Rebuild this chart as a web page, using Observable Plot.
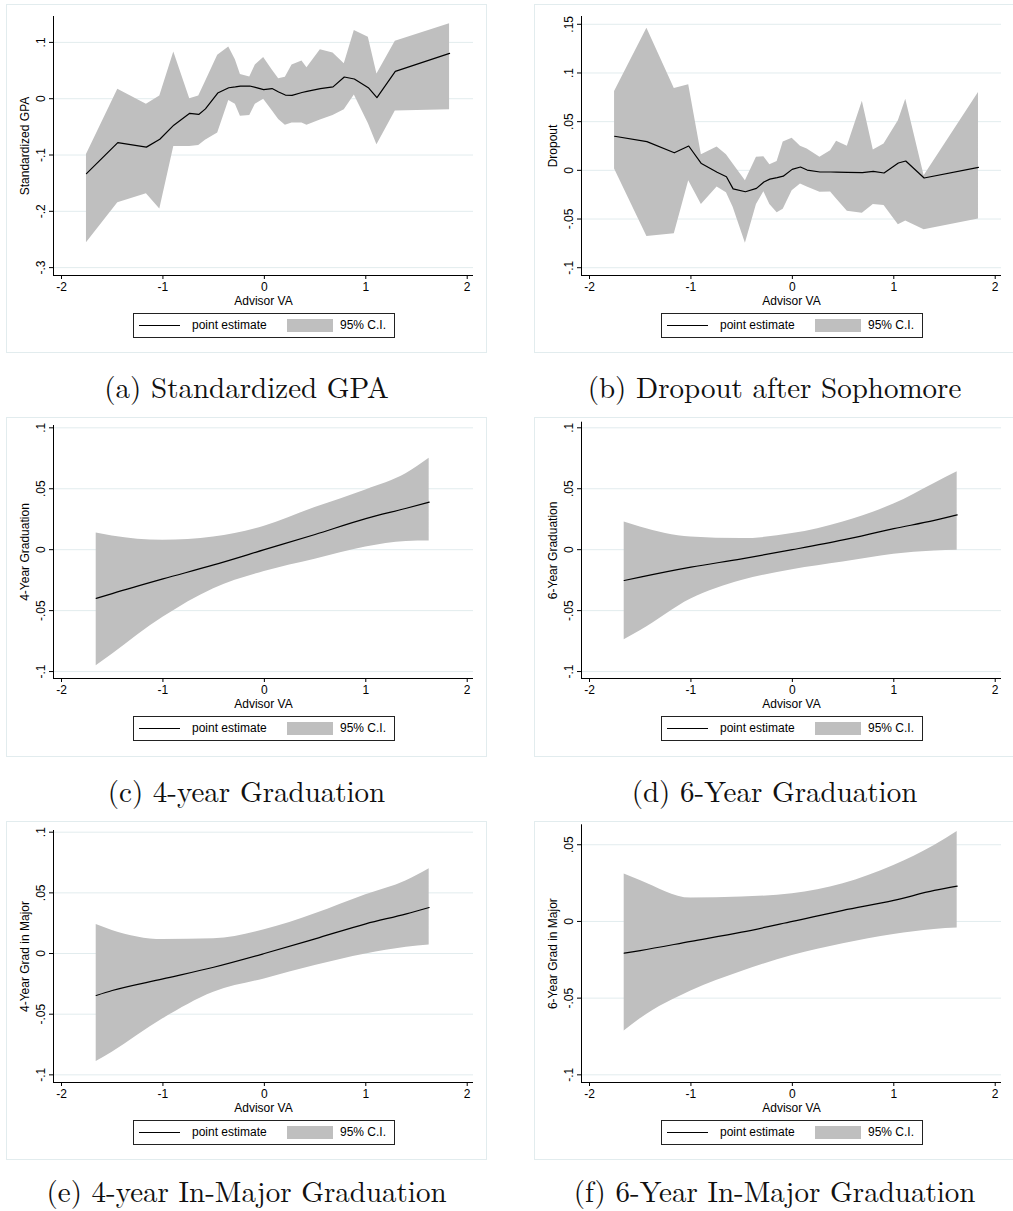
<!DOCTYPE html>
<html><head><meta charset="utf-8">
<script src="https://cdn.jsdelivr.net/npm/d3@7"></script>
<script src="https://cdn.jsdelivr.net/npm/@observablehq/plot@0.6"></script>
<style>
html,body{margin:0;padding:0;background:#fff;}
#fig{position:relative;width:1013px;height:1211px;overflow:hidden;background:#fff;}
.box{position:absolute;border:1px solid #e2ecee;box-sizing:border-box;}
.chart{position:absolute;}
.chart svg{display:block;overflow:visible;}
.legend{position:absolute;border:1px solid #222;box-sizing:border-box;font:12px Arial,"Liberation Sans",sans-serif;color:#000;background:#fff;}
.legend span{position:absolute;line-height:14px;white-space:nowrap;}
.cap{position:absolute;font-family:"Latin Modern Roman","CMU Serif","Liberation Serif",serif;font-size:29px;line-height:29px;text-align:center;white-space:nowrap;color:#111;}
</style></head><body><div id="fig"></div>
<script>
// ---------------- data ----------------
const xTickVals = [-2, -1, 0, 1, 2];
const xTitle = "Advisor VA";
const legendLabels = ["point estimate", "95% C.I."];

// (a) Standardized GPA
const gpaVA  = [-1.754,-1.445,-1.163,-1.031,-0.893,-0.736,-0.647,-0.581,-0.460,-0.351,-0.286,-0.236,-0.144,-0.089,-0.007,0.076,0.141,0.207,0.273,0.371,0.420,0.552,0.677,0.788,0.887,1.025,1.110,1.291,1.826];
const gpaEst = [-0.133,-0.078,-0.086,-0.072,-0.047,-0.026,-0.028,-0.018,0.010,0.0195,0.021,0.0225,0.0225,0.020,0.016,0.018,0.012,0.0065,0.006,0.011,0.013,0.018,0.021,0.0385,0.035,0.0195,0.002,0.0485,0.0805];
const gpaHi  = [-0.099,0.017,-0.010,0.005,0.083,0.000,0.005,0.030,0.077,0.092,0.069,0.043,0.0385,0.060,0.073,0.0515,0.0355,0.038,0.060,0.067,0.055,0.087,0.081,0.062,0.121,0.109,0.044,0.102,0.133];
const gpaLo  = [-0.256,-0.185,-0.169,-0.196,-0.085,-0.085,-0.083,-0.074,-0.061,-0.003,-0.010,-0.031,-0.030,-0.010,-0.001,-0.021,-0.037,-0.047,-0.043,-0.043,-0.047,-0.038,-0.030,-0.0195,0.0065,-0.044,-0.082,-0.022,-0.0195];
const gpaYTicks = [0.1, 0, -0.1, -0.2, -0.3];

// (b) Dropout after Sophomore
const dropVA  = [-1.753,-1.434,-1.164,-1.022,-0.897,-0.742,-0.650,-0.584,-0.463,-0.354,-0.281,-0.222,-0.150,-0.090,-0.002,0.080,0.146,0.272,0.377,0.436,0.542,0.690,0.798,0.904,1.045,1.118,1.299,1.835];
const dropEst = [0.035,0.0295,0.018,0.025,0.007,-0.002,-0.0065,-0.019,-0.022,-0.0185,-0.012,-0.009,-0.0075,-0.006,0.001,0.0034,0.0003,-0.0017,-0.0017,-0.0018,-0.002,-0.0024,-0.001,-0.0027,0.0075,0.0096,-0.0079,0.003];
const dropHi  = [0.081,0.146,0.084,0.088,0.016,0.024,0.016,0.0065,-0.0106,0.0134,0.014,0.0058,0.0092,0.029,0.033,0.0247,0.022,0.0134,0.020,0.030,0.0247,0.071,0.021,0.027,0.051,0.073,-0.0055,0.080];
const dropLo  = [0.0014,-0.068,-0.065,-0.0106,-0.035,-0.017,-0.023,-0.038,-0.075,-0.035,-0.022,-0.035,-0.0435,-0.040,-0.021,-0.014,-0.017,-0.0226,-0.0223,-0.0295,-0.042,-0.044,-0.035,-0.036,-0.056,-0.052,-0.061,-0.050];
const dropYTicks = [0.15, 0.1, 0.05, 0, -0.05, -0.1];

// (c)-(f) smooth fits on a common grid of Advisor VA
const smoothVA = [-1.658, -1.5, -1.0, -0.5, 0, 0.5, 1.0, 1.4, 1.625];
const grad4Est = [-0.040,-0.036,-0.024,-0.0125,0,0.0125,0.0255,0.034,0.039];
const grad4Hi  = [0.0137,0.0113,0.0077,0.0104,0.0192,0.0346,0.049,0.0625,0.075];
const grad4Lo  = [-0.0953,-0.0857,-0.0555,-0.032,-0.0179,-0.0078,0.0022,0.0068,0.0071];
const grad6Est = [-0.0253,-0.0225,-0.0143,-0.0075,0,0.008,0.0173,0.024,0.0286];
const grad6Hi  = [0.0228,0.0187,0.0104,0.0091,0.0132,0.0228,0.0374,0.0544,0.064];
const grad6Lo  = [-0.0739,-0.0665,-0.0404,-0.0253,-0.0165,-0.0102,-0.0038,-0.0011,-0.0005];
const maj4Est  = [-0.0346,-0.0305,-0.0209,-0.0113,0,0.0121,0.0245,0.0327,0.0379];
const maj4Hi   = [0.0239,0.019,0.0115,0.0121,0.0195,0.0327,0.0484,0.060,0.0698];
const maj4Lo   = [-0.089,-0.0813,-0.0538,-0.0319,-0.0209,-0.0099,-0.0003,0.0052,0.0071];
const maj6Est  = [-0.0207,-0.019,-0.013,-0.007,0,0.0072,0.0137,0.0202,0.023];
const maj6Hi   = [0.031,0.0267,0.0152,0.0159,0.018,0.0246,0.0365,0.0495,0.0587];
const maj6Lo   = [-0.0715,-0.0635,-0.0454,-0.0326,-0.0222,-0.0146,-0.0085,-0.0052,-0.0043];
const gradYTicks = [0.1, 0.05, 0, -0.05, -0.1];
const maj6YTicks = [0.05, 0, -0.05, -0.1];

const yTitles = ["Standardized GPA", "Dropout", "4-Year Graduation", "6-Year Graduation", "4-Year Grad in Major", "6-Year Grad in Major"];
const captions = ["(a) Standardized GPA", "(b) Dropout after Sophomore", "(c) 4-year Graduation", "(d) 6-Year Graduation", "(e) 4-year In-Major Graduation", "(f) 6-Year In-Major Graduation"];

// ---------------- layout ----------------
const colX = [0, 528];
const rows = [
  {boxTop: 4,   boxBottom: 353,  xAxis: 275,  cap: 395},
  {boxTop: 417, boxBottom: 757,  xAxis: 678,  cap: 799},
  {boxTop: 821, boxBottom: 1160, xAxis: 1082, cap: 1199}
];
const panels = [
  {va: gpaVA,    est: gpaEst,   lo: gpaLo,   hi: gpaHi,   ticks: gpaYTicks,  yDomain: [-0.314, 0.146],  plotTop: 16,    curve: "linear"},
  {va: dropVA,   est: dropEst,  lo: dropLo,  hi: dropHi,  ticks: dropYTicks, yDomain: [-0.108, 0.158],  plotTop: 16,    curve: "linear"},
  {va: smoothVA, est: grad4Est, lo: grad4Lo, hi: grad4Hi, ticks: gradYTicks, yDomain: [-0.1057, 0.1019], plotTop: 425,  curve: "monotone-x"},
  {va: smoothVA, est: grad6Est, lo: grad6Lo, hi: grad6Hi, ticks: gradYTicks, yDomain: [-0.1057, 0.1046], plotTop: 421.7, curve: "monotone-x"},
  {va: smoothVA, est: maj4Est,  lo: maj4Lo,  hi: maj4Hi,  ticks: gradYTicks, yDomain: [-0.1063, 0.1014], plotTop: 830,  curve: "monotone-x"},
  {va: smoothVA, est: maj6Est,  lo: maj6Lo,  hi: maj6Hi,  ticks: maj6YTicks, yDomain: [-0.105, 0.063],   plotTop: 824.3, curve: "monotone-x"}
];
const xDomain = [-2.079, 2.062];
const fmtY = d => d === 0 ? "0" : String(d).replace("0.", ".");
const ciFill = "#bfbfbf";
const gridColor = "#e2ecee";

const fig = document.getElementById("fig");

panels.forEach((p, i) => {
  const col = i % 2, row = rows[Math.floor(i / 2)];
  const ox = colX[col];

  // outer panel box
  const box = document.createElement("div");
  box.className = "box";
  Object.assign(box.style, {left: (ox + 6) + "px", top: row.boxTop + "px", width: "481px", height: (row.boxBottom - row.boxTop) + "px"});
  fig.appendChild(box);

  const data = p.va.map((x, k) => ({x, est: p.est[k], lo: p.lo[k], hi: p.hi[k]}));
  const marginTop = p.plotTop - row.boxTop;
  const marginBottom = 36;
  const height = row.xAxis - row.boxTop + marginBottom;

  const chart = Plot.plot({
    width: 485, height, marginLeft: 53, marginRight: 12, marginTop, marginBottom,
    style: {background: "none", fontFamily: "Arial, 'Liberation Sans', sans-serif", fontSize: "12px", color: "#000", overflow: "visible"},
    x: {domain: xDomain},
    y: {domain: p.yDomain},
    marks: [
      Plot.gridY(p.ticks, {stroke: gridColor, strokeOpacity: 1, strokeWidth: 1}),
      Plot.areaY(data, {x: "x", y1: "lo", y2: "hi", fill: ciFill, curve: p.curve}),
      Plot.line(data, {x: "x", y: "est", stroke: "#000", strokeWidth: 1.2, curve: p.curve}),
      Plot.ruleX([xDomain[0]], {stroke: "#000", strokeWidth: 1}),
      Plot.ruleY([p.yDomain[0]], {stroke: "#000", strokeWidth: 1}),
      Plot.axisY(p.ticks, {tickSize: 4, fill: "none", stroke: "#000"}),
      Plot.text(p.ticks, {y: d => d, text: fmtY, frameAnchor: "left", dx: -12, rotate: -90, textAnchor: "middle", lineAnchor: "middle", fill: "#000"}),
      Plot.axisX(xTickVals, {tickSize: 4, tickPadding: 3, tickFormat: d => String(d), label: null, stroke: "#000", fill: "#000"}),
      Plot.text([xTitle], {text: d => d, frameAnchor: "bottom", dy: 26, textAnchor: "middle", lineAnchor: "middle", fill: "#000"}),
      Plot.text([yTitles[i]], {text: d => d, frameAnchor: "left", dx: -28, rotate: -90, textAnchor: "middle", lineAnchor: "middle", fill: "#000"})
    ]
  });
  const holder = document.createElement("div");
  holder.className = "chart";
  Object.assign(holder.style, {left: ox + "px", top: row.boxTop + "px", width: "485px"});
  holder.appendChild(chart);
  fig.appendChild(holder);

  // legend
  const lg = document.createElement("div");
  lg.className = "legend";
  Object.assign(lg.style, {left: (ox + 133) + "px", top: (row.xAxis + 38) + "px", width: "262px", height: "25px"});
  lg.innerHTML =
    `<div style="position:absolute;left:5px;top:11px;width:41px;height:0;border-top:1px solid #000"></div>` +
    `<span style="left:58px;top:4px">${legendLabels[0]}</span>` +
    `<div style="position:absolute;left:153px;top:5px;width:46px;height:13px;background:${ciFill}"></div>` +
    `<span style="left:206px;top:4px">${legendLabels[1]}</span>`;
  fig.appendChild(lg);

  // caption
  const cap = document.createElement("div");
  cap.className = "cap";
  const center = ox + 246.5;
  Object.assign(cap.style, {left: (center - 225) + "px", width: "450px", top: (row.cap - 24) + "px"});
  cap.textContent = captions[i];
  fig.appendChild(cap);
});
</script></body></html>
